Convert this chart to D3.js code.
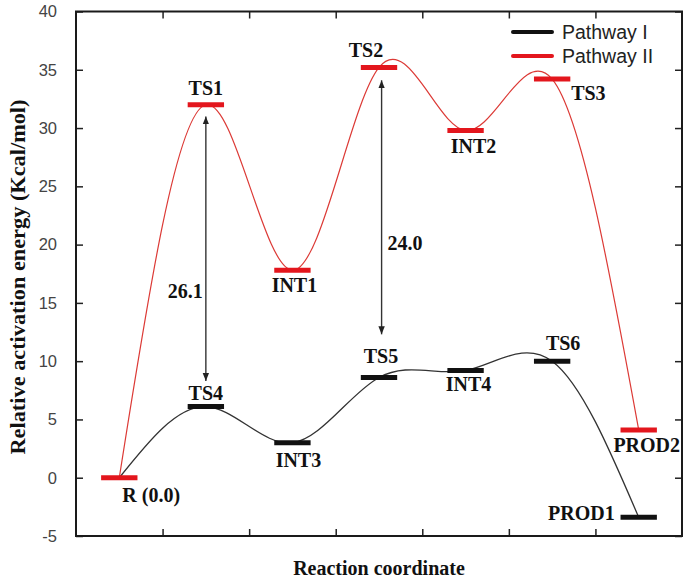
<!DOCTYPE html>
<html><head><meta charset="utf-8">
<script src="https://cdn.jsdelivr.net/npm/d3@7/dist/d3.min.js"></script>
<style>body{margin:0;background:#fff}svg{display:block}</style>
</head><body>
<svg id="chart" width="685" height="582"></svg>
<script>
// ---- data ----
const stepPositions   = [0.5, 1.5, 2.5, 3.5, 4.5, 5.5, 6.5];
const pathway1Labels  = ["R (0.0)", "TS4", "INT3", "TS5", "INT4", "TS6", "PROD1"];
const pathway1Values  = [0.0, 6.1, 3.0, 8.6, 9.2, 10.0, -3.4];
const pathway2Labels  = ["R (0.0)", "TS1", "INT1", "TS2", "INT2", "TS3", "PROD2"];
const pathway2Values  = [0.0, 32.0, 17.8, 35.2, 29.8, 34.2, 4.1];
const seriesNames     = ["Pathway I", "Pathway II"];
const yTicks          = [-5, 0, 5, 10, 15, 20, 25, 30, 35, 40];
const xTicks          = [1, 2, 3, 4, 5, 6];
const barrierLabels   = ["26.1", "24.0"];
const barrierX        = [1.5, 3.53];
const barrierTop      = [31.0, 34.1];
const barrierBottom   = [8.3, 12.3];

// ---- layout / style ----
const M = {left: 76, right: 682, top: 11.5, bottom: 536};
const colBlack = "#111", colRed = "#e3161d", colRedLine = "#dc3a36";
const serif = "'Liberation Serif','Times New Roman',serif";
const sans = "'Liberation Sans',Arial,sans-serif";
// label offsets (px) relative to each level's bar centre: [dx, dy, anchor]
const off1 = [[3,24,"start"],[0,-7,"middle"],[6,24,"middle"],[2,-14,"middle"],[3,21,"middle"],[11,-11,"middle"],[-24,3,"end"]];
const off2 = [[3,24,"start"],[0,-10,"middle"],[2,22,"middle"],[-13,-10,"middle"],[8,23,"middle"],[19,21,"start"],[8,22,"middle"]];

const svg = d3.select("#chart");
const x = d3.scaleLinear().domain([0, 7]).range([M.left, M.right]);
const y = d3.scaleLinear().domain([-5, 40]).range([M.bottom, M.top]);
const barHalf = (x(0.42) - x(0)) / 2;

// curves
const line = d3.line().x(d => x(d[0])).y(d => y(d[1])).curve(d3.curveNatural);
const pts1 = stepPositions.map((p, i) => [p, pathway1Values[i]]);
const pts2 = stepPositions.map((p, i) => [p, pathway2Values[i]]);
svg.append("path").attr("d", line(pts1)).attr("fill", "none").attr("stroke", "#333").attr("stroke-width", 1.3);
svg.append("path").attr("d", line(pts2)).attr("fill", "none").attr("stroke", colRedLine).attr("stroke-width", 1.2);

// bars
function bars(pts, color, skipFirst) {
  svg.append("g").selectAll("line").data(pts.filter((d, i) => !(skipFirst && i === 0))).join("line")
    .attr("x1", d => x(d[0]) - barHalf).attr("x2", d => x(d[0]) + barHalf)
    .attr("y1", d => y(d[1])).attr("y2", d => y(d[1]))
    .attr("stroke", color).attr("stroke-width", 5);
}
bars(pts1, colBlack, true);
bars(pts2, colRed, false);

// level labels
function labels(pts, names, offs, skipFirst) {
  pts.forEach((d, i) => {
    if (skipFirst && i === 0) return;
    svg.append("text").attr("x", x(d[0]) + offs[i][0]).attr("y", y(d[1]) + offs[i][1])
      .attr("text-anchor", offs[i][2]).attr("font-family", serif).attr("font-weight", "bold")
      .attr("font-size", 20).attr("fill", "#111").text(names[i]);
  });
}
labels(pts1, pathway1Labels, off1, true);
labels(pts2, pathway2Labels, off2, false);

// barrier arrows
const defs = svg.append("defs");
defs.append("marker").attr("id", "ah").attr("viewBox", "0 0 10 10").attr("refX", 10).attr("refY", 5)
  .attr("markerWidth", 8).attr("markerHeight", 8).attr("markerUnits", "userSpaceOnUse").attr("orient", "auto-start-reverse")
  .append("path").attr("d", "M0,1 L10,5 L0,9 Z").attr("fill", "#222");
barrierLabels.forEach((lab, i) => {
  svg.append("line").attr("x1", x(barrierX[i])).attr("x2", x(barrierX[i]))
    .attr("y1", y(barrierTop[i])).attr("y2", y(barrierBottom[i]))
    .attr("stroke", "#333").attr("stroke-width", 1.4)
    .attr("marker-start", "url(#ah)").attr("marker-end", "url(#ah)");
});
svg.append("text").attr("x", x(barrierX[0]) - 3).attr("y", y(15.4)).attr("text-anchor", "end")
  .attr("font-family", serif).attr("font-weight", "bold").attr("font-size", 20).attr("fill", "#111").text(barrierLabels[0]);
svg.append("text").attr("x", x(barrierX[1]) + 6).attr("y", y(19.5)).attr("text-anchor", "start")
  .attr("font-family", serif).attr("font-weight", "bold").attr("font-size", 20).attr("fill", "#111").text(barrierLabels[1]);

// axes (inward ticks on all sides)
const tickLen = 7;
svg.append("g").attr("transform", `translate(${M.left},0)`)
  .call(d3.axisLeft(y).tickValues(yTicks).tickSize(-tickLen).tickPadding(12 + tickLen).tickFormat(d => String(d)))
  .call(g => g.select(".domain").remove())
  .call(g => g.selectAll("line").attr("stroke", "#222").attr("stroke-width", 1.5))
  .call(g => g.selectAll("text").attr("font-family", sans).attr("font-size", 16.5).attr("fill", "#444"));
svg.append("g").attr("transform", `translate(${M.right},0)`)
  .call(d3.axisRight(y).tickValues(yTicks).tickSize(-tickLen).tickFormat(""))
  .call(g => g.select(".domain").remove())
  .call(g => g.selectAll("line").attr("stroke", "#222").attr("stroke-width", 1.5));
svg.append("g").attr("transform", `translate(0,${M.bottom})`)
  .call(d3.axisBottom(x).tickValues(xTicks).tickSize(-tickLen).tickFormat(""))
  .call(g => g.select(".domain").remove())
  .call(g => g.selectAll("line").attr("stroke", "#222").attr("stroke-width", 1.5));
svg.append("g").attr("transform", `translate(0,${M.top})`)
  .call(d3.axisTop(x).tickValues(xTicks).tickSize(-tickLen).tickFormat(""))
  .call(g => g.select(".domain").remove())
  .call(g => g.selectAll("line").attr("stroke", "#222").attr("stroke-width", 1.5));
svg.append("rect").attr("x", M.left).attr("y", M.top).attr("width", M.right - M.left).attr("height", M.bottom - M.top)
  .attr("fill", "none").attr("stroke", "#1a1a1a").attr("stroke-width", 2);

// axis titles
svg.append("text").attr("transform", `translate(25,277) rotate(-90)`)
  .attr("text-anchor", "middle").attr("font-family", serif).attr("font-weight", "bold").attr("font-size", 21)
  .attr("textLength", 355).attr("lengthAdjust", "spacingAndGlyphs")
  .attr("fill", "#111").text("Relative activation energy (Kcal/mol)");
svg.append("text").attr("x", 379).attr("y", 575).attr("text-anchor", "middle")
  .attr("font-family", serif).attr("font-weight", "bold").attr("font-size", 20)
  .attr("fill", "#111").text("Reaction coordinate");

// legend
const legColors = [colBlack, colRed];
seriesNames.forEach((n, i) => {
  const ly = 32 + i * 24;
  svg.append("line").attr("x1", 513).attr("x2", 552).attr("y1", ly).attr("y2", ly)
    .attr("stroke", legColors[i]).attr("stroke-width", 4).attr("stroke-linecap", "round");
  svg.append("text").attr("x", 562).attr("y", ly + 6.5).attr("font-family", sans).attr("font-size", 19.5)
    .attr("fill", "#222").text(n);
});
</script>
</body></html>
